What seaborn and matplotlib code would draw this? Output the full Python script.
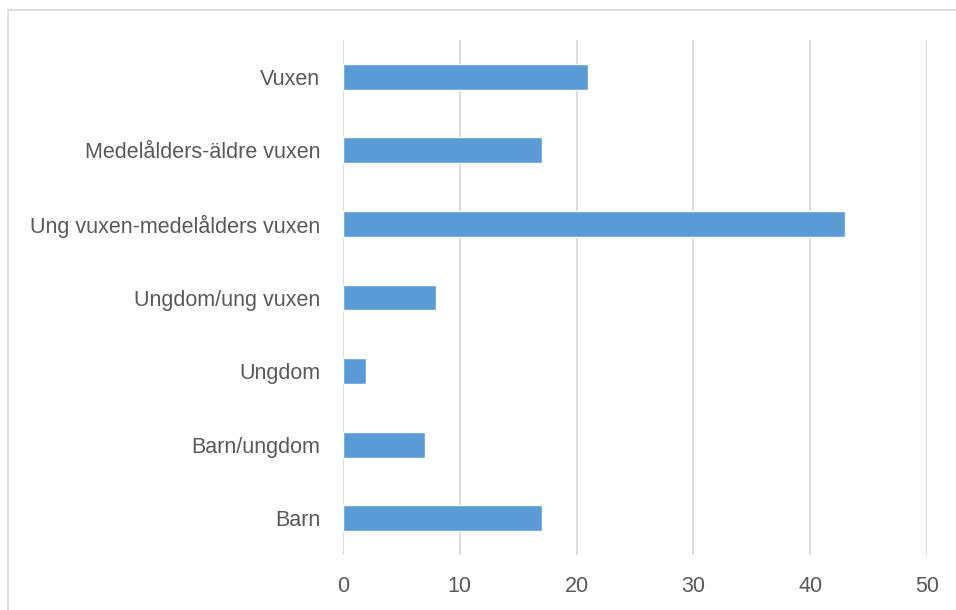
import matplotlib
matplotlib.use("Agg")
import matplotlib.pyplot as plt
import seaborn as sns
import pandas as pd
from matplotlib.patches import Rectangle

categories = ["Vuxen", "Medelålders-äldre vuxen", "Ung vuxen-medelålders vuxen",
              "Ungdom/ung vuxen", "Ungdom", "Barn/ungdom", "Barn"]
values = [21, 17, 43, 8, 2, 7, 17]
xticks = [0, 10, 20, 30, 40, 50]

df = pd.DataFrame({"category": categories, "value": values})

sns.set_theme(style="white")
plt.rcParams['font.family'] = ['Liberation Sans', 'DejaVu Sans']

fig = plt.figure(figsize=(9.56, 6.10), dpi=100)
ax = fig.add_axes([343/956, 1-555/610, (927-343)/956, (555-40)/610])

sns.barplot(data=df, x="value", y="category", orient="h", color="#5B9BD5",
            saturation=1, width=0.35, ax=ax, order=categories)

ax.set_xlim(0, 50)
ax.set_ylim(6.5, -0.5)
ax.set_xticks(xticks)
ax.set_xticklabels([str(t) for t in xticks])
ax.set_xlabel("")
ax.set_ylabel("")
for s in ax.spines.values():
    s.set_visible(False)
ax.grid(axis="x", color="#D9D9D9", linewidth=1.3)
ax.grid(axis="y", visible=False)
ax.set_axisbelow(True)
ax.tick_params(axis="y", length=0, pad=16.5, labelsize=15.5, labelcolor="#595959")
ax.tick_params(axis="x", length=0, pad=15, labelsize=15.5, labelcolor="#595959")

fig.patches.append(Rectangle((8/956, -0.1), 1.2, (1-10/610)+0.1, transform=fig.transFigure,
                             fill=False, edgecolor="#D9D9D9", linewidth=1.2))

fig.savefig("out.png", dpi=100)
